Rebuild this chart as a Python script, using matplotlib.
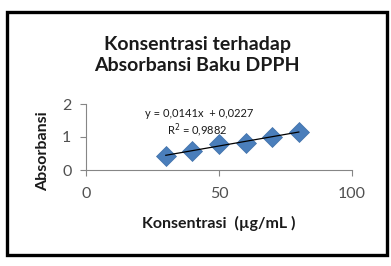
import matplotlib
matplotlib.use("Agg")
import matplotlib.pyplot as plt
import numpy as np
from matplotlib.patches import Rectangle

conc = [30, 40, 50, 60, 70, 80]
absorb = [0.42, 0.58, 0.79, 0.83, 1.01, 1.16]
slope = 0.0141
intercept = 0.0227
eq_text = "y = 0,0141x  + 0,0227"
r2_text = "R$^{2}$ = 0,9882"
xticks = [0, 50, 100]
yticks = [0, 1, 2]

plt.rcParams['font.family'] = ['Lato', 'DejaVu Sans']

W, H = 391, 266
fig = plt.figure(figsize=(W/100, H/100), dpi=100)
fig.patch.set_facecolor('white')

def fx(px): return px / W
def fy(py): return 1 - py / H

fig.patches.append(Rectangle((fx(7), fy(255)), fx(380), (254-11)/H, transform=fig.transFigure,
                             fill=False, edgecolor='black', linewidth=2.4))

ax = fig.add_axes([fx(86), fy(170), fx(352-86), (170-104)/H])
ax.set_xlim(0, 100)
ax.set_ylim(0, 2)
ax.set_xticks(xticks)
ax.set_yticks(yticks)
for s in ['top', 'right']:
    ax.spines[s].set_visible(False)
for s in ['left', 'bottom']:
    ax.spines[s].set_color('#868686')
    ax.spines[s].set_linewidth(0.8)
ax.tick_params(axis='both', colors='#868686', labelcolor='#505050', labelsize=11.5,
               length=4.5, width=0.8, direction='out')
ax.tick_params(axis='y', pad=6)
ax.tick_params(axis='x', pad=8)

ax.plot(conc, absorb, linestyle='none', marker='D', markersize=10, color='#4a7ebb',
        markeredgecolor='#3f6fa8', markeredgewidth=0.5, zorder=3, clip_on=False)
xs = np.array([conc[0], conc[-1]])
ax.plot(xs, slope*xs + intercept, color='black', linewidth=0.9, zorder=4)

ax.text(42.5, 1.72, eq_text, fontsize=8, ha='center', va='center', color='#1a1a1a')
ax.text(42, 1.2, r2_text, fontsize=8, ha='center', va='center', color='#1a1a1a')

fig.text(fx(197), fy(55), "Konsentrasi terhadap\nAbsorbansi Baku DPPH", ha='center', va='center',
         fontsize=14, fontweight='bold', linespacing=1.3, color='#1a1a1a')
fig.text(fx(43), fy(151), "Absorbansi", rotation=90, ha='center', va='center',
         fontsize=11.5, fontweight='bold', color='#1a1a1a')
fig.text(fx(219), fy(223), "Konsentrasi  (µg/mL )", ha='center', va='center',
         fontsize=11.5, fontweight='bold', color='#1a1a1a')

fig.savefig('out.png', dpi=100)
